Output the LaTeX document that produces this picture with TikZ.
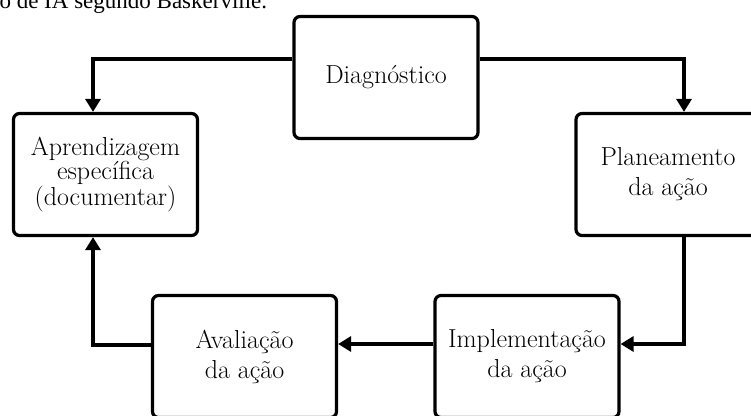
\documentclass[tikz,border=0pt]{standalone}
\usepackage{fontspec}
\usepackage{tikz}
\usetikzlibrary{positioning}
\usetikzlibrary{arrows.meta}
\newfontfamily\capfont{Liberation Serif}
\tikzset {
  x=1pt, y=-1pt,
  % rounded stage boxes of the cycle
  stage/.style = {draw, line width=3.2pt, rounded corners=6pt, minimum width=184pt,
    minimum height=122pt, align=center, font=\fontsize{26}{30}\selectfont},
  % connectors between stages
  flow/.style = {line width=3.2pt, >={Triangle[width=15pt,length=13pt]}},
}
\begin{document}
\begin{tikzpicture}
        \useasboundingbox (0,0) rectangle (751,415);

        \node[anchor=base west, font=\capfont\fontsize{23}{27}\selectfont] (cap) at (-4,9) {o de IA segundo Baskerville.};

        \node[stage] (diag) at (386,77.5) {Diagnóstico};
        \node[stage, font=\fontsize{26}{23}\selectfont] (apr) at (105.5,174.5) {Aprendizagem\\específica\\(documentar)};
        \node[stage] (plan) at (668,174.5) {Planeamento\\da ação};
        \node[stage] (impl) at (527,356.5) {Implementação\\da ação};
        \node[stage] (aval) at (244.5,356.5) {Avaliação\\da ação};

        \coordinate (tl) at (93,59);
        \coordinate (tr) at (684,59);
        \coordinate (br) at (684,344);
        \coordinate (bl) at (93,345);

        \draw [->, flow] (diag.west |- tl) -| (apr.north -| tl);
        \draw [->, flow] (diag.east |- tr) -| (plan.north -| tr);
        \draw [->, flow] (plan.south -| br) |- (impl.east |- br);
        \draw [->, flow] (impl.west |- br) -- (aval.east |- br);
        \draw [->, flow] (aval.west |- bl) -| (apr.south -| bl);
      \end{tikzpicture}
\end{document}
